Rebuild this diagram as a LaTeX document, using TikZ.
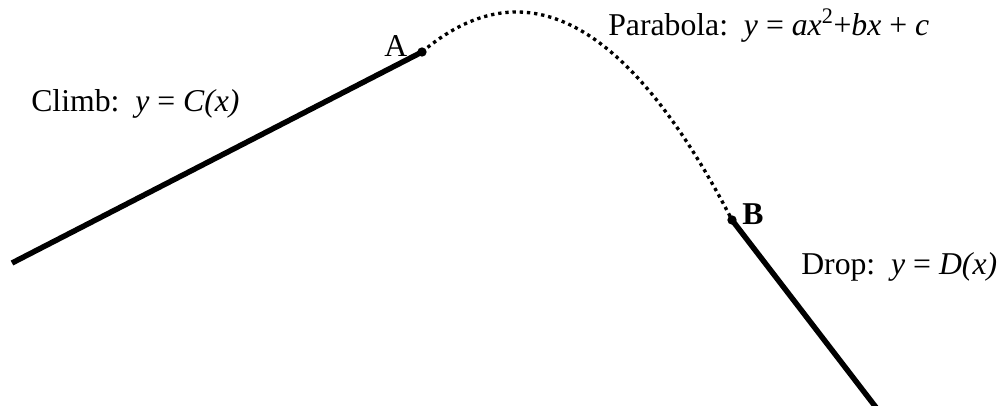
\documentclass[tikz,border=0pt]{standalone}
\usepackage{fontspec}
\setmainfont{Liberation Serif}
\begin{document}
\begin{tikzpicture}[x=0.75pt,y=-0.75pt,
  lbl/.style={font=\fontsize{23.8}{28}\selectfont, inner sep=0pt, anchor=base west},
  road/.style={line width=4.1pt},
  dotline/.style={line width=2.5pt, dash pattern=on 2.5pt off 2.9pt},
  joint/.style={circle, fill=black, inner sep=0pt, minimum size=7pt}]
\useasboundingbox (0,0) rectangle (997,406);
\coordinate (S) at (12,263);
\coordinate (E) at (878,410);
\node[joint] (A) at (422,52) {};
\node[joint] (B) at (732,220) {};
\draw[road] (S) -- (A.center);
\draw[road] (B.center) -- (E);
\draw[dotline] plot[domain=422:732, samples=90] (\x, {12+((\x-516.5)*0.06693)^2});
\node[lbl] (la) at (384,57) {A};
\node[lbl, font=\fontsize{23.8}{28}\selectfont\bfseries] (lb) at (742,225) {B};
\node[lbl] (climb) at (31,112) {Climb:\ \ \textit{y} = \textit{C(x)}};
\node[lbl] (para) at (608,36) {Parabola:\ \ \textit{y} = \textit{ax}\textsuperscript{2}+\textit{bx} + \textit{c}};
\node[lbl] (drop) at (801,275) {Drop:\ \ \textit{y} = \textit{D(x)}};
\end{tikzpicture}
\end{document}
